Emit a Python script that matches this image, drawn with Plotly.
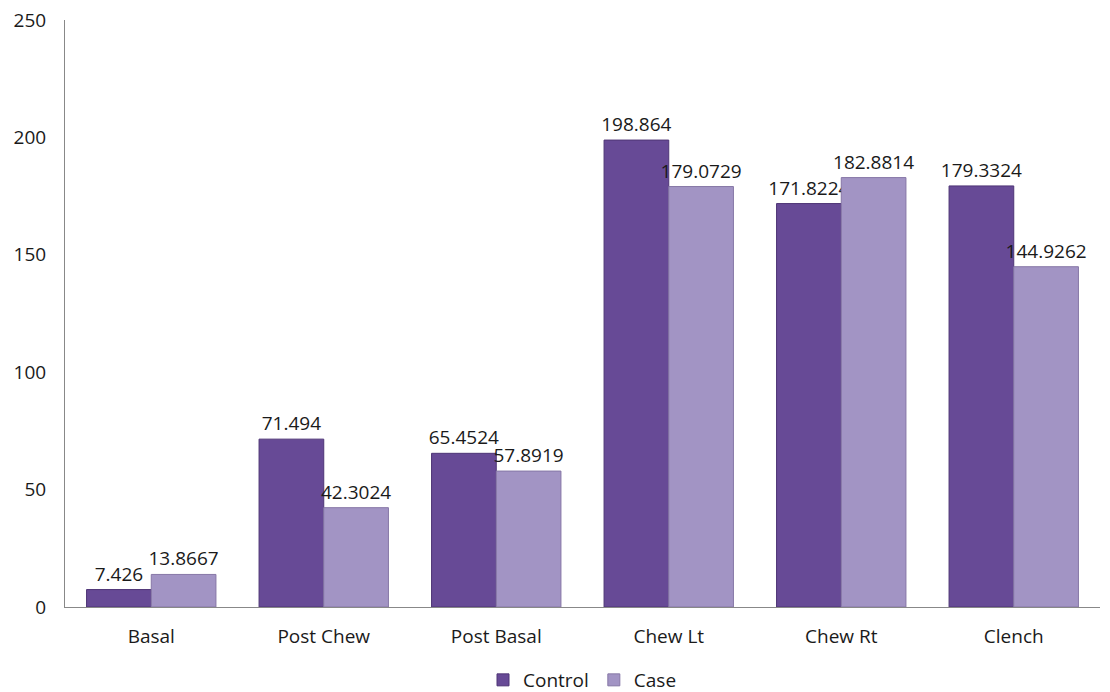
import plotly.graph_objects as go

categories = ["Basal", "Post Chew", "Post Basal", "Chew Lt", "Chew Rt", "Clench"]
control = [7.426, 71.494, 65.4524, 198.864, 171.8224, 179.3324]
case = [13.8667, 42.3024, 57.8919, 179.0729, 182.8814, 144.9262]
control_labels = ["7.426", "71.494", "65.4524", "198.864", "171.8224", "179.3324"]
case_labels = ["13.8667", "42.3024", "57.8919", "179.0729", "182.8814", "144.9262"]

font_family = "Open Sans, Liberation Sans, sans-serif"

fig = go.Figure()
fig.add_trace(go.Bar(
    name="Control", x=categories, y=control,
    text=control_labels, textposition="outside", cliponaxis=False,
    constraintext="none",
    textfont=dict(size=19, color="#1a1a1a"),
    marker=dict(color="#674A96", line=dict(color="#4E3576", width=1)),
))
fig.add_trace(go.Bar(
    name="Case", x=categories, y=case,
    text=case_labels, textposition="outside", cliponaxis=False,
    constraintext="none",
    textfont=dict(size=19, color="#1a1a1a"),
    marker=dict(color="#A294C4", line=dict(color="#8677A6", width=1)),
))

fig.update_layout(
    width=1110, height=692,
    margin=dict(l=65, r=10, t=20, b=85, autoexpand=False),
    paper_bgcolor="white", plot_bgcolor="white",
    font=dict(family=font_family, size=19, color="#1a1a1a"),
    barmode="group", bargap=0.25, bargroupgap=0,
    showlegend=True,
    legend=dict(orientation="h", x=0.5, xanchor="center",
                yref="paper", y=-0.092, yanchor="top",
                font=dict(size=19), traceorder="normal",
                itemwidth=30, tracegroupgap=0),
)
fig.update_yaxes(range=[0, 250], dtick=50, showgrid=False, showline=True,
                 linecolor="#888888", linewidth=1, ticks="", zeroline=False,
                 tickfont=dict(size=19), ticklabelstandoff=14)
fig.update_xaxes(showline=True, linecolor="#888888", linewidth=1, ticks="",
                 tickfont=dict(size=19), ticklabelstandoff=12)

fig.write_html("out.html")
